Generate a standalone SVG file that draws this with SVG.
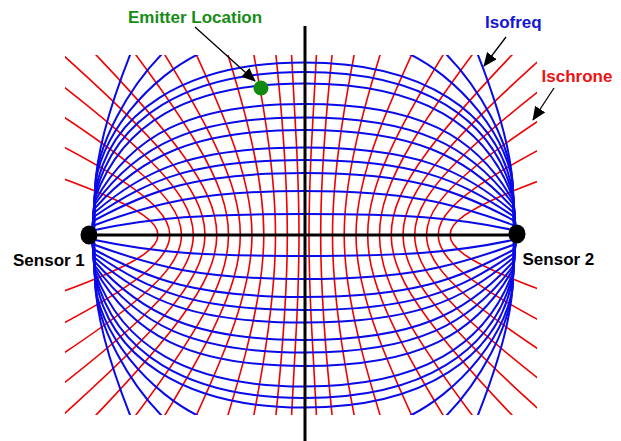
<svg xmlns="http://www.w3.org/2000/svg" width="621" height="441" viewBox="0 0 621 441">
<style>
.red{fill:none;stroke:#f00000;stroke-width:1.6}
.blue{fill:none;stroke:#0a0ae8;stroke-width:2}
.axis{stroke:#000;stroke-width:3;fill:none}
.lbl{font-family:"Liberation Sans",Arial,sans-serif;font-weight:bold;font-size:17px}
.arr{stroke:#000;stroke-width:1.3;fill:none;marker-end:url(#ah)}
</style>
<defs>
<clipPath id="plot"><rect x="65" y="55" width="472" height="360"/></clipPath>
<marker id="ah" markerUnits="userSpaceOnUse" markerWidth="14" markerHeight="12" viewBox="0 0 14 12" refX="13" refY="6" orient="auto"><path d="M0,0 L14,6 L0,12 z" fill="#000"/></marker>
</defs>
<rect width="621" height="441" fill="#fff"/>
<g clip-path="url(#plot)">
<g id="ischrones">
<g id="redL" class="red">
<path d="M283.4,565 C291.2,431.5 295,363.3 296.9,317.5 C298.4,283.8 299,258.9 299,235 C299,211.2 298.4,186.2 296.9,152.5 C295,106.7 291.2,38.5 283.4,-95"/>
<path d="M234.9,772.6 C261.2,555.1 273.7,444 280.3,369.4 C285.2,314.4 287.3,273.9 287.3,235 C287.3,196.1 285.2,155.6 280.3,100.6 C273.7,26 261.2,-85.1 234.9,-302.6"/>
<path d="M186.5,734.6 C231.2,532.5 252.5,429.3 263.7,359.9 C271.9,308.8 275.5,271.1 275.5,235 C275.5,198.9 271.9,161.2 263.7,110.1 C252.5,40.7 231.2,-62.5 186.5,-264.6"/>
<path d="M138,684.6 C201.2,502.7 231.3,409.8 247.1,347.4 C258.7,301.4 263.8,267.5 263.8,235 C263.8,202.5 258.7,168.6 247.1,122.6 C231.3,60.2 201.2,-32.7 138,-214.6"/>
<path d="M89.6,633 C171.2,472 210,389.8 230.5,334.5 C245.5,293.8 252,263.8 252,235 C252,206.2 245.5,176.2 230.5,135.5 C210,80.3 171.2,-2 89.6,-163"/>
<path d="M41.2,606.6 C141.2,456.3 188.8,379.5 213.8,327.9 C232.3,289.9 240.3,261.9 240.3,235 C240.3,208.1 232.3,180.1 213.8,142.1 C188.8,90.5 141.2,13.7 41.2,-136.6"/>
<path d="M-7.3,597.2 C111.2,450.7 167.6,375.8 197.2,325.6 C219.1,288.5 228.5,261.2 228.5,235 C228.5,208.8 219.1,181.5 197.2,144.5 C167.6,94.2 111.2,19.3 -7.3,-127.2"/>
<path d="M-55.7,567.8 C81.2,433.2 146.4,364.4 180.6,318.2 C205.8,284.2 216.8,259.1 216.8,235 C216.8,211 205.8,185.8 180.6,151.8 C146.4,105.6 81.2,36.8 -55.7,-97.8"/>
<path d="M-104.2,559.2 C51.2,428.1 125.1,361.1 164,316.1 C192.6,282.9 205,258.4 205,235 C205,211.6 192.6,187.1 164,153.9 C125.1,108.9 51.2,41.9 -104.2,-89.2"/>
<path d="M-152.6,542.9 C21.2,418.4 103.9,354.7 147.4,312 C179.4,280.5 193.3,257.3 193.3,235 C193.3,212.7 179.4,189.5 147.4,158 C103.9,115.3 21.2,51.7 -152.6,-72.9"/>
<path d="M-201.1,515.2 C-8.8,401.8 82.7,343.9 130.8,305 C166.2,276.4 181.5,255.3 181.5,235 C181.5,214.8 166.2,193.6 130.8,165 C82.7,126.1 -8.8,68.2 -201.1,-45.2"/>
<path d="M-249.5,472.5 C-38.8,376.4 61.4,327.4 114.1,294.4 C153,270.1 169.8,252.2 169.8,235 C169.8,217.8 153,199.9 114.1,175.6 C61.4,142.7 -38.8,93.6 -249.5,-2.5"/>
<path d="M-298,406.7 C-68.8,337.2 40.2,301.8 97.5,277.9 C139.7,260.4 158,247.4 158,235 C158,222.6 139.7,209.6 97.5,192.1 C40.2,168.3 -68.8,132.8 -298,63.3"/>
</g>
<use href="#redL" transform="matrix(-1 0 0 1 608 0)"/>
</g>
<g id="isofreqs">
<g id="blueU" class="blue">
<path d="M92,235 L95,230 C153.7,217.5 204,214 304,214 C404,214 454.3,217.5 513,230 L516,235"/>
<path d="M92,235 L95,225 C153.3,203.8 199,191 304,191 C409,191 454.7,203.8 513,225 L516,235"/>
<path d="M92,235 L95,220 C151.5,190 196,173 304,173 C412,173 456.5,190 513,220 L516,235"/>
<path d="M92,235 L95,216 C149.7,179.1 194,160 304,160 C414,160 458.3,179.1 513,216 L516,235"/>
<path d="M92,235 L95,212 C147.1,168.3 194,147.5 304,147.5 C414,147.5 460.9,168.3 513,212 L516,235"/>
<path d="M92,235 L95,208 C141.8,156 194,130 304,130 C414,130 466.2,156 513,208 L516,235"/>
<path d="M92,235 L95,204 C137.3,145.8 192,117.5 304,117.5 C416,117.5 470.7,145.8 513,204 L516,235"/>
<path d="M92,235 L95,201 C131.4,135.4 189,104 304,104 C419,104 476.6,135.4 513,201 L516,235"/>
<path d="M92,235 L95,198 C121.7,124.7 186,83.5 304,83.5 C422,83.5 486.3,124.7 513,198 L516,235"/>
<path d="M92,235 L95,196 C114.4,118.4 185,72 304,72 C423,72 493.6,118.4 513,196 L516,235"/>
<path d="M92,235 L95,194 C107.8,113 184,62.5 304,62.5 C424,62.5 500.2,113 513,194 L516,235"/>
<path d="M92,235 L95,193 C95,140 150,75 205,51"/>
<path d="M92,235 L95,192 C95,145 130,85 166,50"/>
<path d="M92,235 L95,191 C96,150 112,100 132,50"/>
<path d="M516,235 L513,193 C513,140 458,75 403,51"/>
<path d="M516,235 L513,192 C513,145 478,85 442,50"/>
<path d="M516,235 L513,191 C512,150 496,100 476,50"/>
</g>
<use href="#blueU" transform="matrix(1 0 0 -1 0 470)"/>
</g>
</g>
<g id="axes" class="axis">
<line x1="305" y1="26" x2="305" y2="441"/>
<line x1="89" y1="235" x2="517" y2="235"/>
</g>
<g id="sensor1">
<ellipse cx="89" cy="235" rx="8.5" ry="9.5" fill="#000"/>
<text class="lbl" x="13" y="266" fill="#000">Sensor 1</text>
</g>
<g id="sensor2">
<ellipse cx="517" cy="234" rx="8.5" ry="9.5" fill="#000"/>
<text class="lbl" x="522.5" y="265" fill="#000">Sensor 2</text>
</g>
<g id="emitter">
<circle cx="261" cy="88" r="7.5" fill="#128a12"/>
<text class="lbl" x="128" y="23.3" fill="#168c16">Emitter Location</text>
</g>
<g id="legend">
<text class="lbl" x="485" y="28.3" fill="#1515d8">Isofreq</text>
<text class="lbl" x="541.5" y="81.5" fill="#ee1111">Ischrone</text>
</g>
<g id="connectors">
<line class="arr" x1="195" y1="27" x2="255" y2="81"/>
<line class="arr" x1="506" y1="37" x2="484" y2="66"/>
<line class="arr" x1="554" y1="88" x2="533" y2="120"/>
</g>
</svg>
